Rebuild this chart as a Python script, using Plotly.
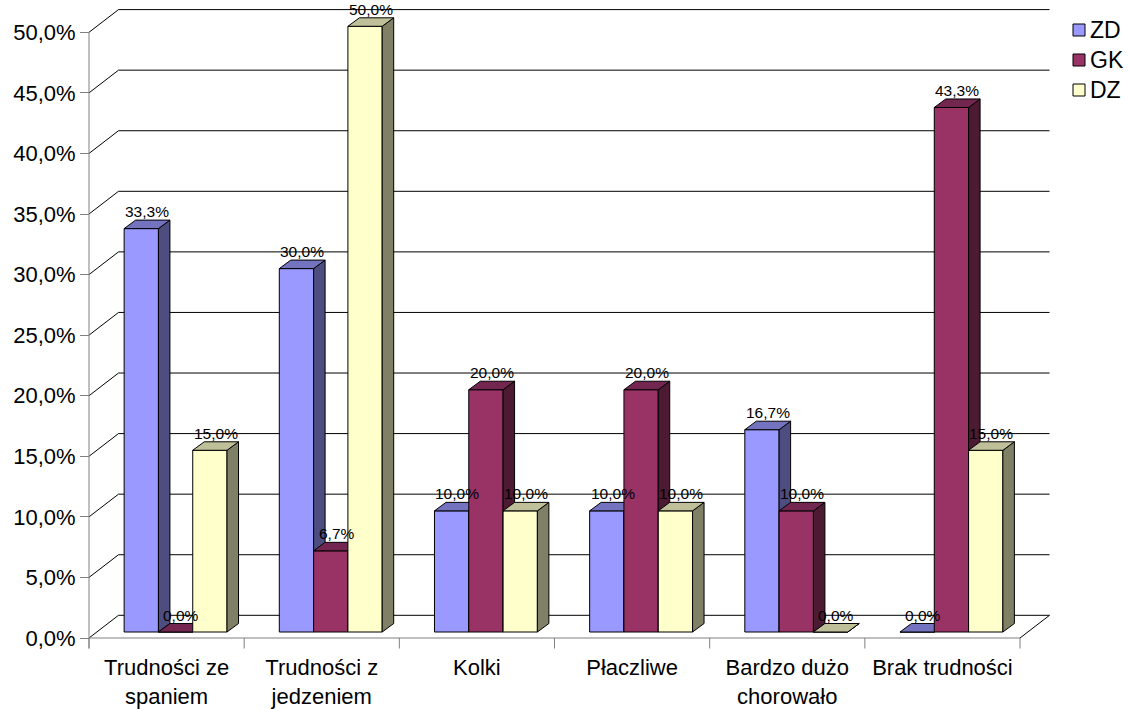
import plotly.graph_objects as go

# ---- data ----
categories = ["Trudności ze<br>spaniem", "Trudności z<br>jedzeniem", "Kolki",
              "Płaczliwe", "Bardzo dużo<br>chorowało", "Brak trudności"]
series_names = ["ZD", "GK", "DZ"]
zd = [33.3, 30.0, 10.0, 10.0, 16.7, 0.0]
gk = [0.0, 6.7, 20.0, 20.0, 10.0, 43.3]
dz = [15.0, 50.0, 10.0, 10.0, 0.0, 15.0]
y_ticks = [0, 5, 10, 15, 20, 25, 30, 35, 40, 45, 50]

# ---- colours: front, side, top ----
colors = {
    "ZD": ("#9999FF", "#4D4D80", "#7373BF"),
    "GK": ("#993366", "#4D1A33", "#732650"),
    "DZ": ("#FFFFCC", "#808066", "#BFBF99"),
}
FONT = "Liberation Sans, Arial, sans-serif"

W, H = 1129, 709
# pixel geometry of the pseudo-3D frame
X0_PX, X_UNIT = 89.0, 155.17      # left edge of the floor, px per category
Y0_PX, Y_UNIT = 638.0, 12.114     # front floor line, px per percent
WALL_DX, WALL_DY = 29.5, 22.7     # depth of the walls (px)
BAR_DX, BAR_DY = 11.5, 8.5        # depth of each column (px)
BAR_SHIFT_PX = (7.6, 6.0)         # columns stand slightly behind the front edge
BAR_W_PX = 34.3
GROUP_SHIFT_PX = 9.0

ux = lambda px: px / X_UNIT
uy = lambda px: px / Y_UNIT

x_range = [-0.5 - X0_PX / X_UNIT, -0.5 + (W - X0_PX) / X_UNIT]
y_range = [-(H - Y0_PX) / Y_UNIT, Y0_PX / Y_UNIT]

n = len(categories)
left, right = -0.5, n - 0.5
top_val = y_ticks[-1]
wdx, wdy = ux(WALL_DX), uy(WALL_DY)

fig = go.Figure()

def line_trace(xs, ys, color="#000000", width=1):
    fig.add_trace(go.Scatter(x=xs, y=ys, mode="lines", hoverinfo="skip",
                             line=dict(color=color, width=width), showlegend=False))

# back wall gridlines and left wall diagonals
gx, gy, dxs, dys = [], [], [], []
for v in y_ticks:
    gx += [left + wdx, right + wdx, None]
    gy += [v + wdy, v + wdy, None]
    dxs += [left, left + wdx, None]
    dys += [v, v + wdy, None]
line_trace(gx, gy)
line_trace(dxs, dys)
# right floor edge
line_trace([right, right + wdx], [0, wdy])
# front axes
tick_len = uy(10.5)
line_trace([left, right], [0, 0], color="#808080")
line_trace([left, left], [top_val, -tick_len], color="#808080")
bx, by = [], []
for k in range(n + 1):
    bx += [left + k, left + k, None]
    by += [0, -tick_len, None]
line_trace(bx, by, color="#808080")

# columns
values = {"ZD": zd, "GK": gk, "DZ": dz}
bw = ux(BAR_W_PX)
base = uy(BAR_SHIFT_PX[1])
bdx, bdy = ux(BAR_DX), uy(BAR_DY)
annotations = []
for s_idx, name in enumerate(series_names):
    front, side, topc = colors[name]
    vals = values[name]
    centers = [i + ux(GROUP_SHIFT_PX) + (s_idx - 1) * bw for i in range(n)]
    fig.add_trace(go.Bar(
        x=centers, y=vals, base=[base] * n, width=bw, name=name,
        marker=dict(color=front, line=dict(color="#000000", width=1)),
        showlegend=False, zorder=s_idx + 1, hoverinfo="skip"))
    sx, sy, tx, ty = [], [], [], []
    for c, v in zip(centers, vals):
        xl, xr = c - bw / 2, c + bw / 2
        t = base + v
        sx += [xr, xr, xr + bdx, xr + bdx, xr, None]
        sy += [base, t, t + bdy, base + bdy, base, None]
        tx += [xl, xr, xr + bdx, xl + bdx, xl, None]
        ty += [t, t, t + bdy, t + bdy, t, None]
        annotations.append(dict(
            x=c + bdx / 2, y=t + uy(17), xref="x", yref="y",
            text=f"{v:.1f}%".replace(".", ","), showarrow=False,
            font=dict(family=FONT, size=15.5, color="#000000")))
    fig.add_trace(go.Scatter(x=sx, y=sy, mode="lines", fill="toself", fillcolor=side,
                             line=dict(color="#000000", width=1), hoverinfo="skip",
                             showlegend=False, zorder=s_idx + 1))
    fig.add_trace(go.Scatter(x=tx, y=ty, mode="lines", fill="toself", fillcolor=topc,
                             line=dict(color="#000000", width=1), hoverinfo="skip",
                             showlegend=False, zorder=s_idx + 1))

# legend
shapes = []
for k, name in enumerate(series_names):
    yc = 30 + 30 * k
    shapes.append(dict(type="rect", xref="paper", yref="paper",
                       x0=1073 / W, x1=1085 / W, y0=1 - (yc + 6) / H, y1=1 - (yc - 6) / H,
                       fillcolor=colors[name][0], line=dict(color="#000000", width=1)))
    annotations.append(dict(x=1088 / W, y=1 - yc / H, xref="paper", yref="paper",
                            text=name, showarrow=False, xanchor="left", yanchor="middle",
                            font=dict(family=FONT, size=23, color="#000000")))

fig.update_layout(
    width=W, height=H, autosize=False,
    margin=dict(l=0, r=0, t=0, b=0),
    paper_bgcolor="white", plot_bgcolor="white",
    barmode="overlay", showlegend=False,
    annotations=annotations, shapes=shapes,
    xaxis=dict(range=x_range, domain=[0, 1], anchor="free", position=(H - Y0_PX) / H,
               tickvals=list(range(n)), ticktext=categories,
               ticks="outside", ticklen=10, tickcolor="rgba(0,0,0,0)",
               showgrid=False, zeroline=False, showline=False,
               tickfont=dict(family=FONT, size=22, color="#000000")),
    yaxis=dict(range=y_range, domain=[0, 1], anchor="free", position=X0_PX / W,
               tickvals=y_ticks, ticktext=[f"{v:.1f}%".replace(".", ",") for v in y_ticks],
               ticks="outside", ticklen=9, tickcolor="#808080",
               showgrid=False, zeroline=False, showline=False,
               tickfont=dict(family=FONT, size=22, color="#000000")),
)

fig.write_html("out.html")
